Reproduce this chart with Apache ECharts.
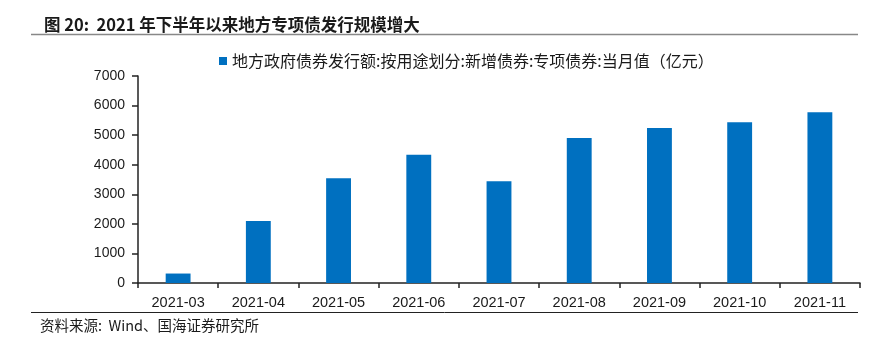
<!DOCTYPE html>
<html>
<head>
<meta charset="utf-8">
<script src="https://cdn.jsdelivr.net/npm/echarts@6/dist/echarts.min.js"></script>
<style>
  html, body { margin: 0; padding: 0; background: #fff; }
  #chart { width: 876px; height: 343px; }
</style>
</head>
<body>
<div id="chart"></div>
<script>
// Monthly issuance of new special-purpose local government bonds (100 million yuan)
const months = ['2021-03', '2021-04', '2021-05', '2021-06', '2021-07', '2021-08', '2021-09', '2021-10', '2021-11'];
const issuance = [320, 2100, 3540, 4340, 3440, 4900, 5240, 5435, 5775];
const yTicks = [0, 1000, 2000, 3000, 4000, 5000, 6000, 7000];

const seriesName = '地方政府债券发行额:按用途划分:新增债券:专项债券:当月值（亿元）';
const cjk = '"Noto Sans CJK SC", sans-serif';
const latin = '"Liberation Sans", Arial, sans-serif';

const chart = echarts.init(document.getElementById('chart'), null, { renderer: 'canvas' });

chart.setOption({
  animation: false,
  backgroundColor: '#ffffff',
  title: {
    text: '图 20:  2021 年下半年以来地方专项债发行规模增大',
    left: 39,
    top: 11,
    textStyle: { fontFamily: cjk, fontSize: 16.5, fontWeight: 'bold', color: '#1a1a1a' }
  },
  legend: {
    data: [seriesName],
    left: 214,
    top: 48,
    icon: 'rect',
    itemWidth: 8,
    itemHeight: 8,
    textStyle: { fontFamily: cjk, fontSize: 16, color: '#1a1a1a' }
  },
  grid: { left: 138, right: 16, top: 76, bottom: 60 },
  xAxis: {
    type: 'category',
    data: months,
    boundaryGap: true,
    axisLine: { lineStyle: { color: '#222', width: 1.5 } },
    axisTick: { show: true, length: 5, inside: false, lineStyle: { color: '#222', width: 1.5 } },
    axisLabel: { fontFamily: latin, fontSize: 14.5, color: '#1a1a1a', margin: 12 }
  },
  yAxis: {
    type: 'value',
    min: yTicks[0],
    max: yTicks[yTicks.length - 1],
    interval: 1000,
    splitLine: { show: false },
    axisLine: { show: true, lineStyle: { color: '#222', width: 1.5 } },
    axisTick: { show: true, length: 6, lineStyle: { color: '#222', width: 1.5 } },
    axisLabel: {
      fontFamily: latin, fontSize: 14, color: '#1a1a1a', margin: 13,
      formatter: v => String(v)
    }
  },
  series: [{
    name: seriesName,
    type: 'bar',
    data: issuance,
    barWidth: '31%',
    itemStyle: { color: '#0070C0' }
  }],
  graphic: [
    {
      type: 'line',
      shape: { x1: 31, y1: 34.5, x2: 858, y2: 34.5 },
      style: { stroke: '#888888', lineWidth: 1.5 }
    },
    {
      type: 'line',
      shape: { x1: 31, y1: 312.5, x2: 858, y2: 312.5 },
      style: { stroke: '#222222', lineWidth: 1 }
    },
    {
      type: 'text',
      left: 40,
      top: 318,
      style: {
        text: '资料来源:  Wind、国海证券研究所',
        font: '14.5px ' + cjk,
        fill: '#1a1a1a'
      }
    }
  ]
});
</script>
</body>
</html>
